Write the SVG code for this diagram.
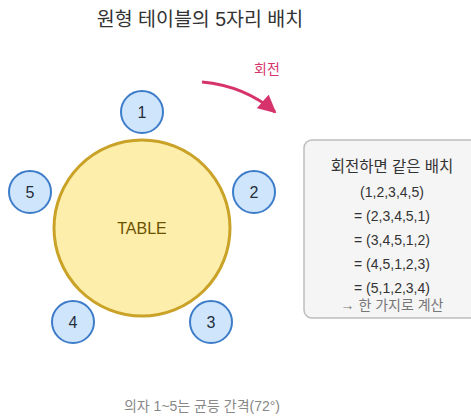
<svg xmlns="http://www.w3.org/2000/svg" width="471" height="418" viewBox="0 0 471 418">
<defs>
<style>
text{font-family:"Liberation Sans","Noto Sans CJK KR",sans-serif;text-anchor:middle}
.seat circle{fill:#cfe5fb;stroke:#3d7cc9;stroke-width:2}
.seat text{font-size:16px;fill:#1f2d3d}
.box text{font-size:14px;fill:#333}
</style>
<marker id="ah" viewBox="0 0 10 10" refX="9" refY="5" markerWidth="6" markerHeight="6" orient="auto" markerUnits="strokeWidth"><path d="M0,0 L10,5 L0,10 z" fill="#d6336c"/></marker>
</defs>
<rect width="471" height="418" fill="#fff"/>
<text x="200" y="26" font-size="19.5" fill="#333">원형 테이블의 5자리 배치</text>
<g id="table">
<circle cx="142" cy="228" r="88" fill="#fdeeab" stroke="#c9a227" stroke-width="3"/>
<text x="142" y="234" font-size="16" fill="#6b5200">TABLE</text>
</g>
<g id="seat1" class="seat"><circle cx="142" cy="112" r="21"/><text x="142" y="118">1</text></g>
<g id="seat2" class="seat"><circle cx="254" cy="192" r="21"/><text x="254" y="198">2</text></g>
<g id="seat3" class="seat"><circle cx="211" cy="322" r="21"/><text x="211" y="328">3</text></g>
<g id="seat4" class="seat"><circle cx="73" cy="322" r="21"/><text x="73" y="328">4</text></g>
<g id="seat5" class="seat"><circle cx="30" cy="192" r="21"/><text x="30" y="198">5</text></g>
<g id="connectors">
<path d="M202,82 Q245,86 275,112" fill="none" stroke="#d6336c" stroke-width="3" marker-end="url(#ah)"/>
</g>
<text x="267" y="74" font-size="14" fill="#d6336c">회전</text>
<g id="box" class="box">
<rect x="304" y="140" width="180" height="178" rx="8" fill="#f5f5f5" stroke="#bdbdbd" stroke-width="1.5"/>
<text x="392" y="172" style="font-size:15.5px" fill="#222">회전하면 같은 배치</text>
<text x="392" y="197">(1,2,3,4,5)</text>
<text x="392" y="221">= (2,3,4,5,1)</text>
<text x="392" y="245">= (3,4,5,1,2)</text>
<text x="392" y="269">= (4,5,1,2,3)</text>
<text x="392" y="293">= (5,1,2,3,4)</text>
<text x="392" y="310" style="fill:#777">→ 한 가지로 계산</text>
</g>
<text x="202" y="411" font-size="14" fill="#888">의자 1~5는 균등 간격(72°)</text>
</svg>
